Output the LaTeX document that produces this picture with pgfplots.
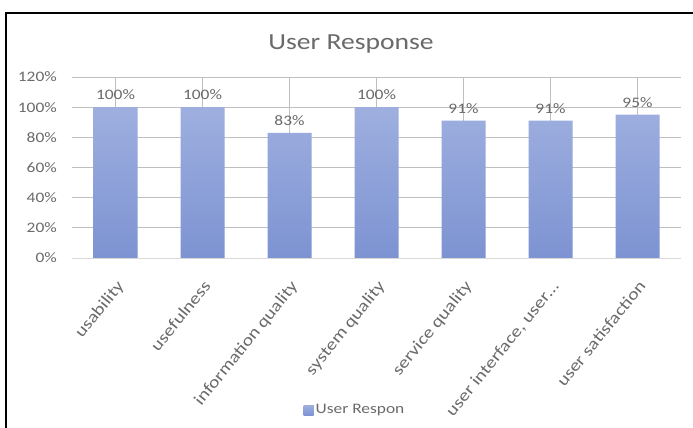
\documentclass[border=0pt]{standalone}
\usepackage{pgfplots}
\pgfplotsset{compat=1.18}
\usepackage{fontspec}
\setmainfont[FakeStretch=1.2]{Carlito}
\definecolor{txt}{HTML}{6A6A6A}
\definecolor{grid}{HTML}{D9D9D9}
\definecolor{bartop}{HTML}{9EAFDF}
\definecolor{barbot}{HTML}{7D93D2}
\definecolor{barmid}{HTML}{8DA1D9}
\begin{document}
\begin{tikzpicture}[x=1pt,y=1pt]
\useasboundingbox (0,0) rectangle (693,428);
\fill[white] (0,0) rectangle (693,428);
\draw[line width=2pt,black] (6,0) -- (6,415.3) -- (693,415.3);
\node[text=txt,font=\fontsize{23}{26}\selectfont] at (351,384) {User Response};
\begin{axis}[
  at={(72pt,170pt)}, anchor=south west,
  scale only axis, width=609pt, height=181pt,
  ymin=0, ymax=120, xmin=-0.5, xmax=6.5,
  ybar, bar width=44pt,
  axis x line*=bottom, axis y line*=left,
  axis line style={draw=none},
  ytick={0,20,...,120},
  yticklabels={0\%,20\%,40\%,60\%,80\%,100\%,120\%},
  ymajorgrids, grid style={grid, line width=0.8pt},
  xtick={0,...,6},
  minor tick num=0,
  xtick style={draw=none}, ytick style={draw=none},
  xticklabels={usability,usefulness,information quality,system quality,service quality,{user interface, user\dots},user satisfaction},
  major tick length=0pt,
  tick label style={text=txt,font=\fontsize{14.5}{16}\selectfont},
  yticklabel style={anchor=east, inner sep=0pt, xshift=-15pt},
  xticklabel style={xshift=0pt, yshift=-21pt, rotate=51, anchor=north east, inner sep=0pt,
    font=\fontsize{16.5}{18}\selectfont},
  nodes near coords={\pgfmathprintnumber{\pgfplotspointmeta}\%},
  nodes near coords style={text=txt,font=\fontsize{14.5}{16}\selectfont, yshift=4pt, /pgf/number format/assume math mode=true},
  legend style={at={(0.4647,-0.84)}, anchor=center, draw=none, fill=none,
    font=\fontsize{14.5}{16}\selectfont, text=txt, legend columns=1},
  legend image code/.code={\fill[barmid] (0pt,-5pt) rectangle (10pt,5pt);},
  clip=false,
]
\draw[grid, line width=0.8pt] (axis cs:-0.5,0) -- (axis cs:6.5,0);
\addplot[draw=none, top color=bartop, bottom color=barbot] coordinates {
  (0,100) (1,100) (2,83) (3,100) (4,91) (5,91) (6,95)};
\addlegendentry{User Respon}
\end{axis}
\end{tikzpicture}
\end{document}
